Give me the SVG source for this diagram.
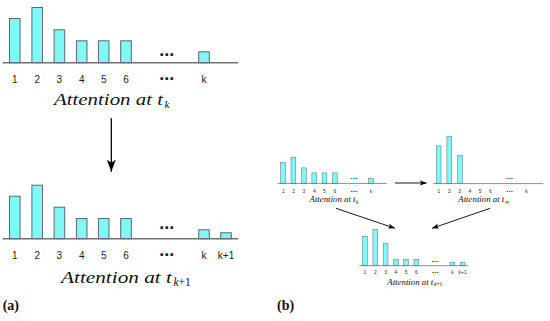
<svg xmlns="http://www.w3.org/2000/svg" width="550" height="321" viewBox="0 0 550 321">
<style>
.bar{fill:#80f8f8;stroke:#5a6a6a;stroke-width:1}
.bs{fill:#80f8f8;stroke:#5a6a6a;stroke-width:0.5}
.base{stroke:#707070;stroke-width:1.5;fill:none}
.bases{stroke:#707070;stroke-width:0.8;fill:none}
.num{font-family:"Liberation Sans",Arial,sans-serif;font-size:10px;fill:#222;text-anchor:middle}
.nums{font-family:"Liberation Sans",Arial,sans-serif;font-size:5px;fill:#333;text-anchor:middle}
.dots{font-family:"Liberation Sans",Arial,sans-serif;font-weight:bold;font-size:18px;fill:#222;text-anchor:middle}
.dotss{font-family:"Liberation Sans",Arial,sans-serif;font-weight:bold;font-size:8px;fill:#333;text-anchor:middle}
.cap{font-family:"Liberation Serif","Times New Roman",serif;font-style:italic;fill:#111}
.sub{font-family:"Liberation Serif","Times New Roman",serif;font-style:italic;fill:#111}
.tag{font-family:"Liberation Serif","Times New Roman",serif;font-weight:bold;font-size:14px;fill:#111}
.conn{stroke:#000;fill:none}
</style>
<defs>
<marker id="headA" markerUnits="userSpaceOnUse" markerWidth="13" markerHeight="9" refX="12" refY="4.5" orient="auto">
<path d="M0,0 L12,4.5 L0,9 L3,4.5 z" fill="#000"/>
</marker>
<marker id="headB" markerUnits="userSpaceOnUse" markerWidth="8" markerHeight="6" refX="7" refY="2.6" orient="auto">
<path d="M0,0 L7,2.6 L0,5.2 L1.8,2.6 z" fill="#000"/>
</marker>
</defs>

<g id="chart-a-top">
<rect class="bar" x="9.5" y="18.5" width="10.6" height="44.2"/>
<rect class="bar" x="31.9" y="7.5" width="10.6" height="55.2"/>
<rect class="bar" x="54.1" y="29.8" width="10.6" height="32.9"/>
<rect class="bar" x="76.4" y="40.8" width="10.6" height="21.9"/>
<rect class="bar" x="98.4" y="40.8" width="10.6" height="21.9"/>
<rect class="bar" x="120.7" y="40.8" width="10.6" height="21.9"/>
<rect class="bar" x="198.7" y="51.8" width="10.6" height="10.9"/>
<line class="base" x1="2.7" y1="62.7" x2="238" y2="62.7"/>
<text class="dots" x="161.7 166.7 171.7" y="55.6">...</text>
<text class="num" x="14.8" y="83">1</text>
<text class="num" x="37.2" y="83">2</text>
<text class="num" x="59.4" y="83">3</text>
<text class="num" x="81.7" y="83">4</text>
<text class="num" x="103.7" y="83">5</text>
<text class="num" x="126" y="83">6</text>
<text class="dots" x="161.7 166.7 171.7" y="80.4">...</text>
<text class="num" x="204" y="83">k</text>
<text class="cap" x="54" y="105" font-size="16" textLength="109" lengthAdjust="spacingAndGlyphs">Attention at t</text>
<text class="sub" x="164.5" y="107.8" font-size="11">k</text>
</g>

<g id="chart-a-bottom">
<rect class="bar" x="9.5" y="196.2" width="10.6" height="42.5"/>
<rect class="bar" x="31.9" y="185.2" width="10.6" height="53.5"/>
<rect class="bar" x="54.1" y="207.2" width="10.6" height="31.5"/>
<rect class="bar" x="76.4" y="218.5" width="10.6" height="20.2"/>
<rect class="bar" x="98.4" y="218.5" width="10.6" height="20.2"/>
<rect class="bar" x="120.7" y="218.5" width="10.6" height="20.2"/>
<rect class="bar" x="198.7" y="229.8" width="10.6" height="8.9"/>
<rect class="bar" x="220.7" y="232.8" width="10.6" height="5.9"/>
<line class="base" x1="2.7" y1="238.7" x2="238" y2="238.7"/>
<text class="dots" x="161.7 166.7 171.7" y="228.6">...</text>
<text class="num" x="14.8" y="258.7">1</text>
<text class="num" x="37.2" y="258.7">2</text>
<text class="num" x="59.4" y="258.7">3</text>
<text class="num" x="81.7" y="258.7">4</text>
<text class="num" x="103.7" y="258.7">5</text>
<text class="num" x="126" y="258.7">6</text>
<text class="dots" x="161.7 166.7 171.7" y="256.3">...</text>
<text class="num" x="204" y="258.7">k</text>
<text class="num" x="226" y="258.7">k+1</text>
<text class="cap" x="61" y="282.7" font-size="16" textLength="111" lengthAdjust="spacingAndGlyphs">Attention at t</text>
<text class="sub" x="173.5" y="286.2" font-size="11.5">k<tspan font-style="normal">+1</tspan></text>
</g>

<g id="chart-b-left">
<rect class="bs" x="280.6" y="162.5" width="4.8" height="20.8"/>
<rect class="bs" x="291" y="157.2" width="4.8" height="26.1"/>
<rect class="bs" x="301.6" y="167.9" width="4.8" height="15.4"/>
<rect class="bs" x="311.9" y="172.9" width="4.8" height="10.4"/>
<rect class="bs" x="322.1" y="172.9" width="4.8" height="10.4"/>
<rect class="bs" x="332.4" y="172.9" width="4.8" height="10.4"/>
<rect class="bs" x="368.5" y="178.2" width="4.8" height="5.1"/>
<line class="bases" x1="277.7" y1="183.4" x2="386.7" y2="183.4"/>
<text class="dotss" x="351.6 353.9 356.2" y="179.2">...</text>
<text class="nums" x="283.3" y="192.8">1</text>
<text class="nums" x="293.7" y="192.8">2</text>
<text class="nums" x="304" y="192.8">3</text>
<text class="nums" x="314.3" y="192.8">4</text>
<text class="nums" x="324.5" y="192.8">5</text>
<text class="nums" x="334.8" y="192.8">6</text>
<text class="dotss" x="351.6 353.9 356.2" y="192">...</text>
<text class="nums" x="370.9" y="192.8">k</text>
<text class="cap" x="309.5" y="202" font-size="7.4" textLength="46" lengthAdjust="spacingAndGlyphs">Attention at t</text>
<text class="sub" x="356" y="203.6" font-size="5.2">k</text>
</g>

<g id="chart-b-right">
<rect class="bs" x="436.2" y="145.9" width="4.8" height="37.6"/>
<rect class="bs" x="446.9" y="136.5" width="4.8" height="47"/>
<rect class="bs" x="457.5" y="155.5" width="4.8" height="28"/>
<line class="bases" x1="433.3" y1="183.6" x2="543.3" y2="183.6"/>
<text class="dotss" x="507.2 509.5 511.8" y="178.6">...</text>
<text class="nums" x="438.9" y="192.8">1</text>
<text class="nums" x="449.3" y="192.8">2</text>
<text class="nums" x="459.6" y="192.8">3</text>
<text class="nums" x="469.9" y="192.8">4</text>
<text class="nums" x="480.1" y="192.8">5</text>
<text class="nums" x="490.4" y="192.8">6</text>
<text class="dotss" x="507.2 509.5 511.8" y="192">...</text>
<text class="nums" x="526.5" y="192.8">k</text>
<text class="cap" x="458.3" y="202" font-size="7.4" textLength="46" lengthAdjust="spacingAndGlyphs">Attention at t</text>
<text class="sub" x="505" y="203.6" font-size="6" font-style="normal">∞</text>
</g>

<g id="chart-b-bottom">
<rect class="bs" x="362.5" y="236.2" width="4.8" height="29.5"/>
<rect class="bs" x="372.9" y="229.2" width="4.8" height="36.5"/>
<rect class="bs" x="383.2" y="243.2" width="4.8" height="22.5"/>
<rect class="bs" x="393.5" y="259.2" width="4.8" height="6.5"/>
<rect class="bs" x="403.7" y="259.2" width="4.8" height="6.5"/>
<rect class="bs" x="414" y="259.2" width="4.8" height="6.5"/>
<rect class="bs" x="450.1" y="262.2" width="4.8" height="3.5"/>
<rect class="bs" x="460.3" y="262.2" width="4.8" height="3.5"/>
<line class="bases" x1="359.3" y1="265.7" x2="468.3" y2="265.7"/>
<text class="dotss" x="432.9 435.2 437.5" y="261.6">...</text>
<text class="nums" x="364.9" y="274.3">1</text>
<text class="nums" x="375.3" y="274.3">2</text>
<text class="nums" x="385.6" y="274.3">3</text>
<text class="nums" x="395.9" y="274.3">4</text>
<text class="nums" x="406.1" y="274.3">5</text>
<text class="nums" x="416.4" y="274.3">6</text>
<text class="dotss" x="432.9 435.2 437.5" y="273.3">...</text>
<text class="nums" x="452.5" y="274.3">k</text>
<text class="nums" x="462.7" y="274.3">k+1</text>
<text class="cap" x="387.3" y="284.7" font-size="7.4" textLength="46" lengthAdjust="spacingAndGlyphs">Attention at t</text>
<text class="sub" x="434" y="286.3" font-size="5.4">k<tspan font-style="normal">+1</tspan></text>
</g>

<g id="connectors">
<line class="conn" stroke-width="1.3" x1="111.3" y1="118.3" x2="111.3" y2="171.7" marker-end="url(#headA)"/>
<line class="conn" stroke-width="0.9" x1="395" y1="183" x2="426.7" y2="183" marker-end="url(#headB)"/>
<line class="conn" stroke-width="0.9" x1="336" y1="208.3" x2="395" y2="228.3" marker-end="url(#headB)"/>
<line class="conn" stroke-width="0.9" x1="490" y1="208.3" x2="432" y2="228.3" marker-end="url(#headB)"/>
</g>

<g id="tags">
<text class="tag" x="2.7" y="309.5">(a)</text>
<text class="tag" x="277" y="309.5">(b)</text>
</g>
</svg>
